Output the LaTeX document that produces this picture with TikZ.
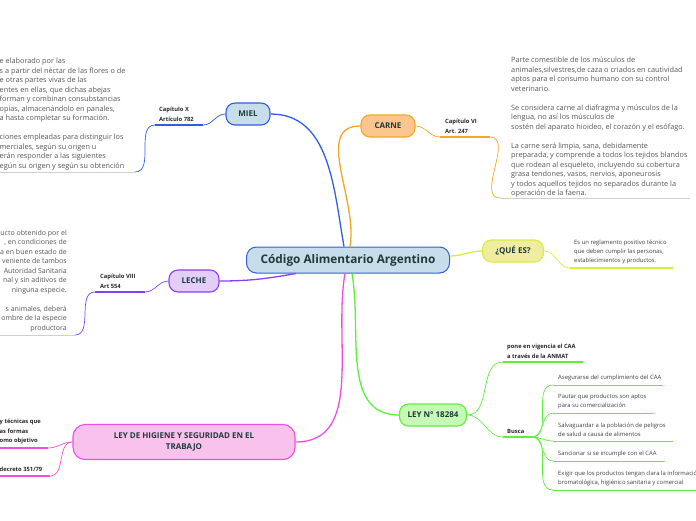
\documentclass[tikz,border=0pt]{standalone}
\usepackage{fontspec}
\setmainfont{Open Sans}
\usetikzlibrary{positioning}

\definecolor{mielline}{HTML}{2F5FE0}
\definecolor{mielfill}{HTML}{C8DDEA}
\definecolor{carneline}{HTML}{F5A623}
\definecolor{carnefill}{HTML}{FDC68E}
\definecolor{queline}{HTML}{D6EE3C}
\definecolor{quefill}{HTML}{F0EDA0}
\definecolor{lecheline}{HTML}{8B3FF2}
\definecolor{lechefill}{HTML}{E2CEF8}
\definecolor{higieneline}{HTML}{F04CE6}
\definecolor{higienefill}{HTML}{F8C2EC}
\definecolor{leyline}{HTML}{5CF03A}
\definecolor{leyfill}{HTML}{C6F8B6}
\definecolor{labeltext}{HTML}{1E3A3C}
\definecolor{bodygray}{HTML}{555555}
\definecolor{rulegray}{HTML}{D0D0D0}

\tikzset{
  centraltopic/.style={draw=mielline, fill=mielfill, line width=1pt, rounded corners=10pt,
    inner sep=0pt, minimum width=203pt, minimum height=26pt, text=labeltext,
    font=\fontsize{11.8}{14}\selectfont\bfseries},
  topic/.style={draw=#1line, fill=#1fill, line width=1.1pt, rounded corners=9pt,
    inner sep=0pt, minimum height=22pt, text=labeltext,
    font=\fontsize{8}{11}\selectfont\bfseries},
  branch/.style={draw=#1line, line width=1.3pt},
  twig/.style={draw=#1line, line width=0.7pt},
  rule/.style={draw=#1line, line width=1.6pt},
  textrule/.style={draw=rulegray, line width=0.5pt},
  sublabel/.style={inner sep=0pt, align=left, text=black!85,
    font=\fontsize{5.8}{9.5}\selectfont\bfseries},
  bodytext/.style={inner sep=0pt, text=bodygray, font=\fontsize{7.3}{9.5}\selectfont},
  smalltext/.style={inner sep=0pt, align=left, text=black!75,
    font=\fontsize{5.9}{9}\selectfont},
}

\begin{document}
\begin{tikzpicture}[x=1pt,y=-1pt]
    \useasboundingbox (0,0) rectangle (696,520);

    % Central topic
    \node[centraltopic] (caa) at (348,260) {Código Alimentario Argentino};

    % Main topics
    \node[topic=miel, minimum width=44pt] (miel) at (248,114) {MIEL};
    \node[topic=carne, minimum width=54pt] (carne) at (388,126) {CARNE};
    \node[topic=que, minimum width=61pt] (que) at (513,251) {¿QUÉ ES?};
    \node[topic=leche, minimum width=50pt] (leche) at (194,281) {LECHE};
    \node[topic=ley, minimum width=67pt] (ley) at (433,415) {LEY N° 18284};
    \node[topic=higiene, minimum width=222pt, minimum height=35pt, align=center,
      rounded corners=12pt] (higiene) at (184,442) {LEY DE HIGIENE Y SEGURIDAD EN EL\\TRABAJO};

    % Branches from the central topic
    \draw[branch=miel] ([xshift=-4pt]caa.north) to[out=100,in=0] (miel.east);
    \draw[branch=carne] ([xshift=2pt]caa.north) to[out=80,in=180] (carne.west);
    \draw[branch=que] ([yshift=4pt]caa.east) to[out=0,in=180] (que.west);
    \draw[branch=leche] ([xshift=-52pt]caa.south) to[out=190,in=0] (leche.east);
    \draw[branch=higiene] ([xshift=-3pt]caa.south) to[out=-100,in=0] (higiene.east);
    \draw[branch=ley] ([xshift=4pt]caa.south) to[out=-80,in=180] (ley.west);

    % MIEL
    \coordinate (mielcapR) at (203,125);
    \coordinate (mielcapL) at (155,125);
    \node[sublabel, anchor=south west] (mielcap) at (159,121.5) {Capítulo X\\Artículo 782};
    \coordinate (mieltxtR) at (135,172);
    \coordinate (mieltxtL) at (0,172);
    \node[bodytext, align=left, anchor=north west] (mieltxt) at (-0.5,57.8)
      {e elaborado por las\\
       s a partir del néctar de las flores o de\\
       e otras partes vivas de las\\
       entes en ellas, que dichas abejas\\
       forman y combinan consubstancias\\
       opias, almacenándolo en panales,\\
       a hasta completar su formación.\\[9.5pt]
       ciones empleadas para distinguir los\\
       merciales, según su origen u\\
       erán responder a las siguientes\\
       egún su origen y según su obtención};
    \draw[twig=miel] (miel.west) to[out=180,in=0] (mielcapR);
    \draw[rule=miel] (mielcapR) -- (mielcapL);
    \draw[twig=miel] (mielcapL) to[out=180,in=0] (mieltxtR);
    \draw[textrule] (mieltxtR) -- (mieltxtL);

    % CARNE
    \coordinate (carnecapL) at (440,137);
    \coordinate (carnecapR) at (490,137);
    \node[sublabel, anchor=south west] (carnecap) at (445,133.5) {Capítulo VI\\Art. 247};
    \coordinate (carnetxtL) at (500,198);
    \coordinate (carnetxtR) at (690,198);
    \node[bodytext, align=left, anchor=north west] (carnetxt) at (511,56.8)
      {Parte comestible de los músculos de\\
       animales,silvestres,de caza o criados en cautividad\\
       aptos para el consumo humano con su  control\\
       veterinario.\\[9.5pt]
       Se considera carne al diafragma y músculos de la\\
       lengua, no así los músculos de\\
       sostén del aparato hioideo, el corazón y el esófago.\\[9.5pt]
       La carne será limpia, sana, debidamente\\
       preparada, y comprende a todos los tejidos blandos\\
       que rodean al esqueleto, incluyendo su cobertura\\
       grasa tendones, vasos, nervios, aponeurosis\\
       y todos aquellos tejidos no separados durante la\\
       operación de la faena.};
    \draw[twig=carne] (carne.east) to[out=0,in=180] (carnecapL);
    \draw[rule=carne] (carnecapL) -- (carnecapR);
    \draw[twig=carne] (carnecapR) to[out=0,in=180] (carnetxtL);
    \draw[textrule] (carnetxtL) -- (carnetxtR);

    % QUE ES
    \coordinate (queL) at (570,268);
    \coordinate (queR) at (673,268);
    \node[smalltext, anchor=south west] (quetxt) at (574,264.5)
      {Es un reglamento positivo técnico\\que deben cumplir las personas,\\establecimientos y productos.};
    \draw[twig=que] (que.east) to[out=0,in=180] (queL);
    \draw[rule=que] (queL) -- (queR);

    % LECHE
    \coordinate (lechecapR) at (145,292);
    \coordinate (lechecapL) at (95,292);
    \node[sublabel, anchor=south west] (lechecap) at (100,288.5) {Capítulo VIII\\Art 554};
    \coordinate (lechetxtR) at (75,335);
    \coordinate (lechetxtL) at (0,335);
    \node[bodytext, align=right, anchor=north east, font=\fontsize{7}{9.5}\selectfont] (lechetxt) at (67,229.8)
      {ucto obtenido por el\\
       , en condiciones de\\
       a en buen estado de\\
       veniente de tambos\\
       Autoridad Sanitaria\\
       nal y sin aditivos de\\
       ninguna especie.\\[9.5pt]
       s animales, deberá\\
       ombre de la especie\\
       productora};
    \draw[twig=leche] (leche.west) to[out=180,in=0] (lechecapR);
    \draw[rule=leche] (lechecapR) -- (lechecapL);
    \draw[twig=leche] (lechecapL) to[out=180,in=0] (lechetxtR);
    \draw[textrule] (lechetxtR) -- (lechetxtL);

    % LEY DE HIGIENE
    \coordinate (higAR) at (48,448);
    \coordinate (higAL) at (0,448);
    \node[sublabel, anchor=south west] (higA) at (-0.5,444.5) {y técnicas que\\as formas\\omo objetivo};
    \coordinate (higBR) at (50,476);
    \coordinate (higBL) at (0,476);
    \node[sublabel, anchor=south west] (higB) at (-0.5,472) {decreto 351/79};
    \draw[twig=higiene] (higiene.west) to[out=180,in=0] (higAR);
    \draw[rule=higiene] (higAR) -- (higAL);
    \draw[twig=higiene] (higiene.west) to[out=180,in=0] (higBR);
    \draw[rule=higiene] (higBR) -- (higBL);

    % LEY N 18284
    \coordinate (poneL) at (503,362);
    \coordinate (poneR) at (583,362);
    \node[sublabel, anchor=south west] (pone) at (507,358.5) {pone en vigencia el CAA\\a través de la ANMAT};
    \coordinate (buscaL) at (503,437);
    \coordinate (buscaR) at (532,437);
    \node[sublabel, anchor=south west] (busca) at (507,433.5) {Busca};
    \draw[twig=ley] (ley.east) to[out=0,in=180] (poneL);
    \draw[rule=ley] (poneL) -- (poneR);
    \draw[twig=ley] (ley.east) to[out=0,in=180] (buscaL);
    \draw[rule=ley] (buscaL) -- (buscaR);

    % Busca items
    \coordinate (asegL) at (553,385);
    \coordinate (asegR) at (663,385);
    \node[smalltext, anchor=south west] (aseg) at (558,381) {Asegurarse del cumplimiento del CAA};
    \coordinate (pautL) at (553,413);
    \coordinate (pautR) at (653,413);
    \node[smalltext, anchor=south west] (paut) at (558,409) {Pautar que productos son aptos\\para su comercialización};
    \coordinate (salvL) at (553,441);
    \coordinate (salvR) at (673,441);
    \node[smalltext, anchor=south west] (salv) at (558,437) {Salvaguardar a la población de peligros\\de salud a causa de alimentos};
    \coordinate (sancL) at (553,461);
    \coordinate (sancR) at (665,461);
    \node[smalltext, anchor=south west] (sanc) at (558,457) {Sancionar  si se incumple  con el CAA};
    \coordinate (exigL) at (553,490);
    \coordinate (exigR) at (696,490);
    \node[smalltext, anchor=south west] (exig) at (558,486) {Exigir que los productos tengan clara la información\\bromatológica, higiénico sanitaria y comercial};
    \draw[twig=ley] (buscaR) to[out=0,in=180] (asegL);
    \draw[twig=ley] (buscaR) to[out=0,in=180] (pautL);
    \draw[twig=ley] (buscaR) to[out=0,in=180] (salvL);
    \draw[twig=ley] (buscaR) to[out=0,in=180] (sancL);
    \draw[twig=ley] (buscaR) to[out=0,in=180] (exigL);
    \draw[rule=ley, line width=1pt] (asegL) -- (asegR);
    \draw[rule=ley, line width=1pt] (pautL) -- (pautR);
    \draw[rule=ley, line width=1pt] (salvL) -- (salvR);
    \draw[rule=ley, line width=1pt] (sancL) -- (sancR);
    \draw[rule=ley, line width=1pt] (exigL) -- (exigR);

\end{tikzpicture}
\end{document}
